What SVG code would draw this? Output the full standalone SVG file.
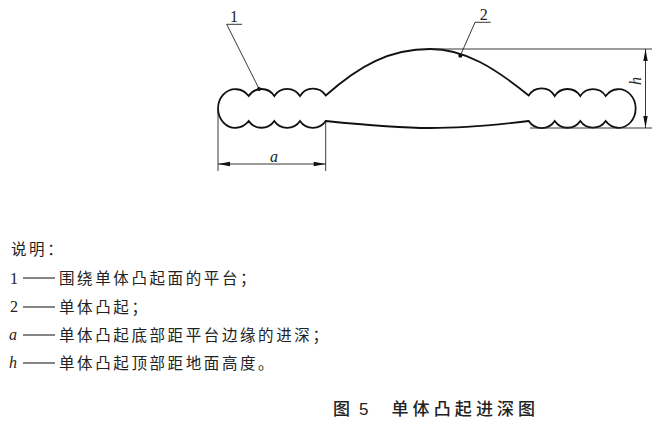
<svg xmlns="http://www.w3.org/2000/svg" width="665" height="431" viewBox="0 0 665 431">
<style>
.o{fill:none;stroke:#111;stroke-width:1.8}
.t{fill:none;stroke:#222;stroke-width:.9}
.d{fill:none;stroke:#222;stroke-width:1.1}
.h{fill:#111;stroke:none}
text{font-family:"Noto Sans CJK SC","Noto Sans",sans-serif;fill:#222}
.n{font-family:"Liberation Serif",serif;font-size:16px}
.i{font-family:"Liberation Serif",serif;font-style:italic;font-size:16px}
.l{font-size:15.500px;letter-spacing:2.600px}
.c{font-size:17px;font-weight:500;letter-spacing:4.100px}
.c5{font-family:"Liberation Sans",sans-serif;font-size:17px}
</style>
<rect width="665" height="431" fill="#fff"/>
<g id="platform-and-bump">
<path class="o" d="M248.700 96A17.400 19.300 0 1 0 248.700 121A15.500 15.500 0 0 0 274.300 121A15.500 15.500 0 0 0 300 121A15.500 15.500 0 0 0 325.700 121C365 125 395 128 430 128C465 128 495 125 528.700 121A15.500 15.500 0 0 0 554.700 121A15.500 15.500 0 0 0 580.300 121A15.500 15.500 0 0 0 605.700 121A17 19.300 0 1 0 605.700 96A15.200 15.200 0 0 0 580.300 96A15.200 15.200 0 0 0 554.700 96A15.200 15.200 0 0 0 528.700 95.500C495 68 465 49 430 49C390 49 360 65 325.700 95.500A15.200 15.200 0 0 0 300 96A15.200 15.200 0 0 0 274.300 96A15.200 15.200 0 0 0 248.700 96Z"/>
</g>
<g id="connectors">
<path class="t" d="M226.700 24.300H242M226.700 24.300L259 88.700"/>
<path class="t" d="M490.700 22.300H475L460.300 55.700"/>
<path class="t" d="M218 108V171M325.700 121V171M218 164H325.700"/>
<path class="t" d="M430 49H652M530 128H652M645.500 49V128"/>
<path class="h" d="M218 164l12-2.200v4.400zM325.700 164l-12-2.200v4.400zM645.500 49l-2.200 12h4.400zM645.500 128l-2.200-12h4.400z"/>
<circle class="h" cx="259" cy="89" r="2"/>
<circle class="h" cx="460.300" cy="55.700" r="2"/>
</g>
<g id="label-1"><text class="n" x="234" y="21.500" text-anchor="middle">1</text></g>
<g id="label-2"><text class="n" x="483.700" y="20" text-anchor="middle">2</text></g>
<g id="dim-a"><text class="i" x="274" y="162" text-anchor="middle">a</text></g>
<g id="dim-h"><text class="i" x="0" y="0" text-anchor="middle" transform="translate(641 81) rotate(-90)">h</text></g>
<g id="legend">
<text class="l" x="11" y="255">说明：</text>
<text class="n" x="10" y="284">1</text><path class="d" d="M23 278H55"/><text class="l" x="59" y="284">围绕单体凸起面的平台；</text>
<text class="n" x="10" y="312">2</text><path class="d" d="M23 307H55"/><text class="l" x="59" y="313">单体凸起；</text>
<text class="i" x="9" y="340">a</text><path class="d" d="M23 335H55"/><text class="l" x="59" y="341">单体凸起底部距平台边缘的进深；</text>
<text class="i" x="9" y="368">h</text><path class="d" d="M23 363H55"/><text class="l" x="59" y="369">单体凸起顶部距地面高度。</text>
</g>
<g id="caption">
<text class="c" x="333" y="415">图</text><text class="c5" x="359" y="414.500">5</text><text class="c" x="391.500" y="415">单体凸起进深图</text>
</g>
</svg>
